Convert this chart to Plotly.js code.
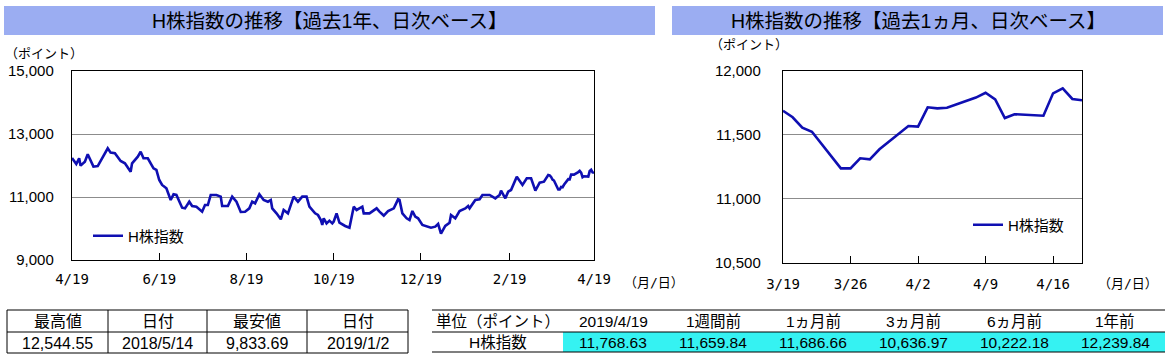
<!DOCTYPE html>
<html>
<head>
<meta charset="utf-8">
<script src="https://cdn.plot.ly/plotly-3.0.1.min.js"></script>
<style>
html,body{margin:0;padding:0;background:#fff;}
#chart{width:1171px;height:359px;}
</style>
</head>
<body>
<div id="chart"></div>
<script>
// ---- data ----
const seriesName = 'H株指数';
const yearDates = ['2018-04-19','2018-04-22','2018-04-24','2018-04-25','2018-04-28','2018-04-30','2018-05-04','2018-05-07','2018-05-14','2018-05-16','2018-05-19','2018-05-23','2018-05-26','2018-05-30','2018-05-31','2018-06-04','2018-06-06','2018-06-08','2018-06-11','2018-06-15','2018-06-17','2018-06-19','2018-06-21','2018-06-24','2018-06-27','2018-06-29','2018-07-01','2018-07-05','2018-07-07','2018-07-10','2018-07-12','2018-07-15','2018-07-19','2018-07-21','2018-07-23','2018-07-25','2018-07-29','2018-08-01','2018-08-02','2018-08-06','2018-08-09','2018-08-12','2018-08-15','2018-08-18','2018-08-21','2018-08-23','2018-08-25','2018-08-28','2018-08-31','2018-09-03','2018-09-05','2018-09-06','2018-09-09','2018-09-12','2018-09-14','2018-09-17','2018-09-21','2018-09-24','2018-09-27','2018-09-30','2018-10-02','2018-10-06','2018-10-08','2018-10-10','2018-10-11','2018-10-12','2018-10-14','2018-10-16','2018-10-18','2018-10-19','2018-10-21','2018-10-23','2018-10-27','2018-10-30','2018-11-02','2018-11-04','2018-11-08','2018-11-09','2018-11-13','2018-11-18','2018-11-20','2018-11-23','2018-11-26','2018-11-30','2018-12-03','2018-12-04','2018-12-06','2018-12-09','2018-12-11','2018-12-13','2018-12-15','2018-12-17','2018-12-20','2018-12-23','2018-12-26','2018-12-29','2018-12-31','2019-01-02','2019-01-05','2019-01-08','2019-01-09','2019-01-12','2019-01-15','2019-01-19','2019-01-21','2019-01-22','2019-01-26','2019-01-29','2019-01-31','2019-02-05','2019-02-09','2019-02-12','2019-02-13','2019-02-16','2019-02-18','2019-02-20','2019-02-24','2019-02-28','2019-03-03','2019-03-06','2019-03-09','2019-03-12','2019-03-15','2019-03-18'];
const yearValues = [12240,12048,12228,11995,12122,12355,11963,11980,12545,12408,12387,12143,12070,11804,12070,12281,12440,12228,12228,11910,11858,11540,11381,11275,10905,11085,11064,10660,10640,10851,10714,10693,10534,10746,10746,11064,11064,11011,10714,10714,11011,10851,10524,10534,10640,10851,10798,11085,10905,10851,10905,10640,10481,10290,10588,10481,11011,10851,11011,11011,10693,10481,10429,10270,10111,10323,10164,10249,10164,10222,10481,10185,10080,10026,10693,10588,10693,10481,10481,10640,10534,10410,10550,10640,10926,10905,10481,10323,10270,10556,10376,10323,10111,10080,10026,10058,10143,9834,10080,10185,10429,10323,10556,10637,10714,10640,10905,10926,11064,11064,10958,11064,11201,10958,11170,11223,11646,11381,11593,11593,11201,11455,11487,11699];
const monthDates = ['2019-03-19','2019-03-20','2019-03-21','2019-03-22','2019-03-25','2019-03-26','2019-03-27','2019-03-28','2019-03-29','2019-04-01','2019-04-02','2019-04-03','2019-04-04','2019-04-05','2019-04-08','2019-04-09','2019-04-10','2019-04-11','2019-04-12','2019-04-15','2019-04-16','2019-04-17','2019-04-18','2019-04-19'];
const monthValues = [11687,11636,11555,11523,11237,11237,11316,11308,11386,11568,11563,11714,11706,11710,11790,11828,11776,11630,11660,11648,11823,11862,11779,11769];

const yearTickVals = ['2018-04-19','2018-06-19','2018-08-19','2018-10-19','2018-12-19','2019-02-19','2019-04-19'];
const yearTickText = ['4/19','6/19','8/19','10/19','12/19','2/19','4/19'];
const monthTickVals = ['2019-03-19','2019-03-26','2019-04-02','2019-04-09','2019-04-16'];
const monthTickText = ['3/19','3/26','4/2','4/9','4/16'];

const titleYear = 'H株指数の推移【過去1年、日次ベース】';
const titleMonth = 'H株指数の推移【過去1ヵ月、日次ベース】';
const yUnit = '（ポイント）';
const xUnit = '（月/日）';

const statHeaders = ['最高値','日付','最安値','日付'];
const statHigh = 12544.55, statHighDate = '2018/5/14';
const statLow = 9833.69, statLowDate = '2019/1/2';

const cmpHeaders = ['単位（ポイント）','2019/4/19','1週間前','1ヵ月前','3ヵ月前','6ヵ月前','1年前'];
const cmpRowLabel = 'H株指数';
const cmpValues = [11768.63,11659.84,11686.66,10636.97,10222.18,12239.84];

// ---- layout helpers ----
const W = 1171, H = 359;
const fx = x => x / W;
const fy = y => 1 - y / H;
const fmt2 = v => v.toLocaleString('en-US',{minimumFractionDigits:2,maximumFractionDigits:2});
const FONT = 'Liberation Sans, Arial, Noto Sans CJK JP, sans-serif';
const MONO = 'DejaVu Sans Mono, Noto Sans CJK JP, monospace';
const LINE = '#0F0FB2';

const traces = [
  {x: yearDates.concat(monthDates), y: yearValues.concat(monthValues), type:'scatter', mode:'lines',
   name: seriesName, line:{color:LINE, width:2.6}, xaxis:'x', yaxis:'y', legend:'legend'},
  {x: monthDates, y: monthValues, type:'scatter', mode:'lines',
   name: seriesName, line:{color:LINE, width:2.6}, xaxis:'x2', yaxis:'y2', legend:'legend2'}
];

const axisCommon = {showline:true, linecolor:'#000', linewidth:1.2, mirror:true, zeroline:false, fixedrange:true};

const shapes = [];
const annotations = [];
function rect(x0,y0,x1,y1,fill,lw){
  shapes.push({type:'rect', xref:'paper', yref:'paper', x0:fx(x0), x1:fx(x1), y0:fy(y1), y1:fy(y0),
    fillcolor:fill||'rgba(0,0,0,0)', line:{width:lw||0, color:'#000'}, layer:'below'});
}
function hline(x0,x1,y,lw){
  shapes.push({type:'line', xref:'paper', yref:'paper', x0:fx(x0), x1:fx(x1), y0:fy(y), y1:fy(y), line:{color:'#000', width:lw||1}});
}
function vline(x,y0,y1,lw){
  shapes.push({type:'line', xref:'paper', yref:'paper', x0:fx(x), x1:fx(x), y0:fy(y0), y1:fy(y1), line:{color:'#000', width:lw||1}});
}
function text(t,x,y,size,anchor,family){
  annotations.push({text:t, xref:'paper', yref:'paper', x:fx(x), y:fy(y), xanchor:anchor||'center', yanchor:'middle',
    showarrow:false, font:{family:family||FONT, size:size||15, color:'#000'}});
}

// title bars
rect(4,6,655,35,'#9BADF2');
rect(672,6,1163,35,'#9BADF2');
text(titleYear, 329, 21, 19.5);
text(titleMonth, 918, 21, 19.5);

// units
text(yUnit, 3, 53, 13, 'left');
text(yUnit, 708, 44, 13, 'left');
text(xUnit, 622, 282, 13, 'left', MONO);
text(xUnit, 1096, 283, 13, 'left', MONO);

// left stats table
const ltCols = [7,108,207,307,408];
rect(7,310,408,353,null,1);
hline(7,408,332,1);
for (let i=1;i<ltCols.length-1;i++) vline(ltCols[i],310,353,1);
const ltVals = [fmt2(statHigh), statHighDate, fmt2(statLow), statLowDate];
for (let i=0;i<4;i++){
  const cx = (ltCols[i]+ltCols[i+1])/2;
  text(statHeaders[i], cx, 321, 16);
  text(ltVals[i], cx, 343, 16);
}

// right comparison table
const rtCols = [432,563,663,763,863,963,1065,1165];
rect(563,332,1165,352,'#35F2F2',0);
hline(432,1165,310,1);
hline(432,1165,332,1);
hline(432,1165,352,1.2);
const rtVals = [cmpRowLabel].concat(cmpValues.map(fmt2));
for (let i=0;i<7;i++){
  const cx = (rtCols[i]+rtCols[i+1])/2;
  text(cmpHeaders[i], cx, 321, 15.5);
  text(rtVals[i], cx, 342, 15.5);
}

const layout = {
  width:W, height:H, margin:{l:0,r:0,t:0,b:0}, paper_bgcolor:'#fff', plot_bgcolor:'#fff',
  font:{family:FONT, size:14, color:'#000'},
  xaxis: Object.assign({}, axisCommon, {domain:[fx(72),fx(594)], anchor:'y', type:'date',
    range:['2018-04-19','2019-04-19'], tickmode:'array', tickvals:yearTickVals, ticktext:yearTickText,
    ticks:'inside', ticklen:7, tickcolor:'#000', tickwidth:1, showgrid:false,
    tickfont:{family:MONO, size:14}, ticklabelstandoff:6}),
  yaxis: Object.assign({}, axisCommon, {domain:[fy(260),fy(71)], anchor:'x', range:[9000,15000], dtick:2000,
    tick0:9000, tickformat:',d', showgrid:true, gridcolor:'#8c8c8c', gridwidth:1, ticks:'',
    tickfont:{family:FONT, size:15}, ticklabelstandoff:14}),
  xaxis2: Object.assign({}, axisCommon, {domain:[fx(783),fx(1082)], anchor:'y2', type:'date',
    range:['2019-03-19','2019-04-19'], tickmode:'array', tickvals:monthTickVals, ticktext:monthTickText,
    ticks:'inside', ticklen:7, tickcolor:'#000', tickwidth:1, showgrid:false,
    tickfont:{family:MONO, size:14}, ticklabelstandoff:8}),
  yaxis2: Object.assign({}, axisCommon, {domain:[fy(262.7),fy(70.7)], anchor:'x2', range:[10500,12000], dtick:500,
    tick0:10500, tickformat:',d', showgrid:true, gridcolor:'#8c8c8c', gridwidth:1, ticks:'',
    tickfont:{family:FONT, size:15}, ticklabelstandoff:18}),
  showlegend:true,
  legend:{x:fx(88), y:fy(236), xanchor:'left', yanchor:'middle', bgcolor:'rgba(0,0,0,0)', borderwidth:0,
    font:{family:FONT, size:15}},
  legend2:{x:fx(968), y:fy(225), xanchor:'left', yanchor:'middle', bgcolor:'rgba(0,0,0,0)', borderwidth:0,
    font:{family:FONT, size:15}},
  shapes:shapes, annotations:annotations
};

Plotly.newPlot('chart', traces, layout, {staticPlot:true, displayModeBar:false});
</script>
</body>
</html>
